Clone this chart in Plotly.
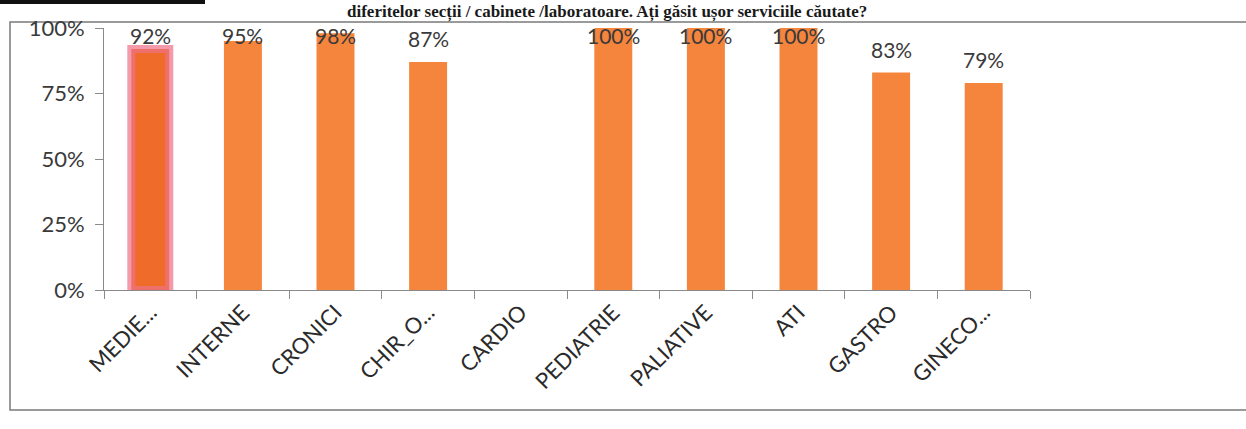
import plotly.graph_objects as go

categories = ["MEDIE...", "INTERNE", "CRONICI", "CHIR_O...", "CARDIO",
              "PEDIATRIE", "PALIATIVE", "ATI", "GASTRO", "GINECO..."]
values = [0.92, 0.95, 0.98, 0.87, None, 1.00, 1.00, 1.00, 0.83, 0.79]
y_ticks = [0, 0.25, 0.5, 0.75, 1.0]
y_tick_labels = ["0%", "25%", "50%", "75%", "100%"]
title_text = "diferitelor secții / cabinete /laboratoare. Ați găsit ușor serviciile căutate?"

W, H = 1246, 429
PL, PR, PT, PB = 104, 1030, 28, 290  # plot area in page pixels


def px_x(px):
    return (px - PL) / (PR - PL)


def px_y(py):
    return (PB - py) / (PB - PT)


ORANGE = "#F5843D"
HILITE = "#EF6B2A"
GLOW = "rgba(240,112,135,0.7)"

colors = [HILITE if i == 0 else ORANGE for i in range(len(categories))]
line_w = [8 if i == 0 else 0 for i in range(len(categories))]
line_c = [GLOW if i == 0 else ORANGE for i in range(len(categories))]

fig = go.Figure()
fig.add_trace(go.Bar(
    x=categories, y=values, width=0.41,
    marker=dict(color=colors, line=dict(width=line_w, color=line_c)),
    hoverinfo="skip",
))

# data labels (pushed down to stay inside the chart box, like the original)
LABEL_CAP = 0.88
for c, v in zip(categories, values):
    if v is None:
        continue
    fig.add_annotation(x=c, y=min(v, LABEL_CAP), xref="x", yref="y",
                       text=f"{round(v*100)}%", showarrow=False,
                       yanchor="bottom", yshift=9,
                       font=dict(family="Lato", size=21, color="#3a3a3a"))

# title line above the chart box
fig.add_annotation(x=px_x(345), y=px_y(0), xref="paper", yref="paper",
                   xanchor="left", yanchor="top", text=f"<b>{title_text}</b>",
                   showarrow=False,
                   font=dict(family="Liberation Serif", size=17, color="#1a1a1a"))

# frame of the chart box
fig.add_shape(type="rect", xref="paper", yref="paper",
              x0=px_x(10), x1=px_x(1300), y0=px_y(410), y1=px_y(22),
              line=dict(color="#7a7a7a", width=1.5), fillcolor="rgba(0,0,0,0)", layer="below")
# black header block at top-left
fig.add_shape(type="rect", xref="paper", yref="paper",
              x0=px_x(0), x1=px_x(205), y0=px_y(4), y1=px_y(0),
              line=dict(width=0), fillcolor="#111111")

fig.update_layout(
    width=W, height=H,
    margin=dict(l=PL, r=W - PR, t=PT, b=H - PB),
    paper_bgcolor="white", plot_bgcolor="white",
    showlegend=False,
    xaxis=dict(type="category", categoryorder="array", categoryarray=categories,
               tickson="boundaries", ticks="outside", ticklen=8, tickcolor="#8a8a8a",
               showline=True, linecolor="#8a8a8a", linewidth=1, showgrid=False,
               tickangle=-45, tickfont=dict(family="Lato", size=22, color="#2a2a2a")),
    yaxis=dict(range=[0, 1], tickvals=y_ticks, ticktext=y_tick_labels,
               ticks="outside", ticklen=8, tickcolor="#8a8a8a",
               showline=True, linecolor="#8a8a8a", linewidth=1, showgrid=False,
               zeroline=False, ticklabelstandoff=6,
               tickfont=dict(family="Lato", size=22, color="#3a3a3a")),
)

fig.write_html("out.html", config={"displayModeBar": False},
               post_script="document.body.style.margin='0';")
